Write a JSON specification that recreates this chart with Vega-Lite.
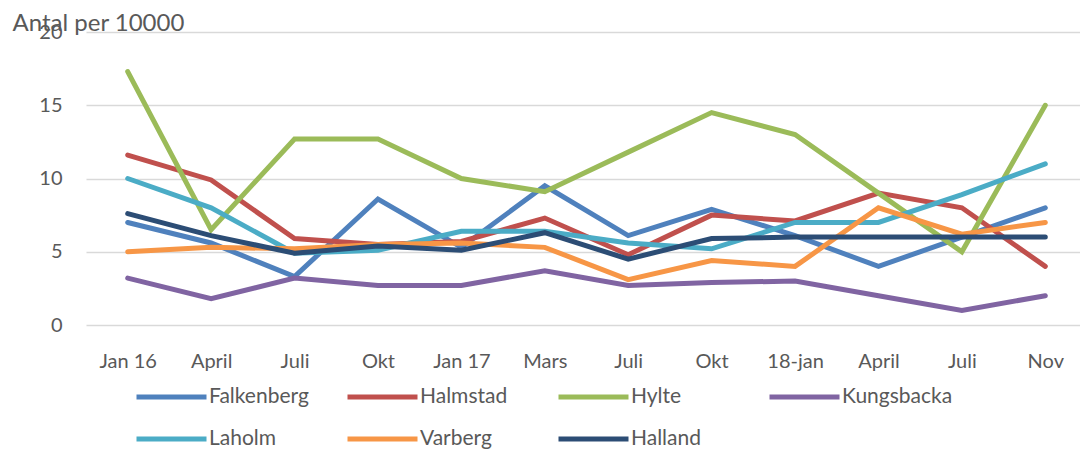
{
  "$schema": "https://vega.github.io/schema/vega-lite/v6.json",
  "autosize": "none",
  "width": 1001,
  "height": 293,
  "padding": {"left": 86, "top": 32, "right": 0, "bottom": 126},
  "background": "white",
  "config": {
    "view": {"stroke": null},
    "font": "Lato",
    "axis": {"labelFont": "Lato", "titleFont": "Lato"},
    "legend": {"labelFont": "Lato"}
  },
  "data": {
    "values": [
      {"serie": "Falkenberg", "t": 0, "v": 7.0}, {"serie": "Falkenberg", "t": 1, "v": 5.6}, {"serie": "Falkenberg", "t": 2, "v": 3.3}, {"serie": "Falkenberg", "t": 3, "v": 8.6}, {"serie": "Falkenberg", "t": 4, "v": 5.3}, {"serie": "Falkenberg", "t": 5, "v": 9.5}, {"serie": "Falkenberg", "t": 6, "v": 6.1}, {"serie": "Falkenberg", "t": 7, "v": 7.9}, {"serie": "Falkenberg", "t": 8, "v": 6.1}, {"serie": "Falkenberg", "t": 9, "v": 4.0}, {"serie": "Falkenberg", "t": 10, "v": 6.0}, {"serie": "Falkenberg", "t": 11, "v": 8.0},
      {"serie": "Halmstad", "t": 0, "v": 11.6}, {"serie": "Halmstad", "t": 1, "v": 9.9}, {"serie": "Halmstad", "t": 2, "v": 5.9}, {"serie": "Halmstad", "t": 3, "v": 5.5}, {"serie": "Halmstad", "t": 4, "v": 5.7}, {"serie": "Halmstad", "t": 5, "v": 7.3}, {"serie": "Halmstad", "t": 6, "v": 4.8}, {"serie": "Halmstad", "t": 7, "v": 7.5}, {"serie": "Halmstad", "t": 8, "v": 7.1}, {"serie": "Halmstad", "t": 9, "v": 9.0}, {"serie": "Halmstad", "t": 10, "v": 8.0}, {"serie": "Halmstad", "t": 11, "v": 4.0},
      {"serie": "Hylte", "t": 0, "v": 17.3}, {"serie": "Hylte", "t": 1, "v": 6.5}, {"serie": "Hylte", "t": 2, "v": 12.7}, {"serie": "Hylte", "t": 3, "v": 12.7}, {"serie": "Hylte", "t": 4, "v": 10.0}, {"serie": "Hylte", "t": 5, "v": 9.1}, {"serie": "Hylte", "t": 6, "v": 11.8}, {"serie": "Hylte", "t": 7, "v": 14.5}, {"serie": "Hylte", "t": 8, "v": 13.0}, {"serie": "Hylte", "t": 9, "v": 9.0}, {"serie": "Hylte", "t": 10, "v": 5.0}, {"serie": "Hylte", "t": 11, "v": 15.0},
      {"serie": "Kungsbacka", "t": 0, "v": 3.2}, {"serie": "Kungsbacka", "t": 1, "v": 1.8}, {"serie": "Kungsbacka", "t": 2, "v": 3.2}, {"serie": "Kungsbacka", "t": 3, "v": 2.7}, {"serie": "Kungsbacka", "t": 4, "v": 2.7}, {"serie": "Kungsbacka", "t": 5, "v": 3.7}, {"serie": "Kungsbacka", "t": 6, "v": 2.7}, {"serie": "Kungsbacka", "t": 7, "v": 2.9}, {"serie": "Kungsbacka", "t": 8, "v": 3.0}, {"serie": "Kungsbacka", "t": 9, "v": 2.0}, {"serie": "Kungsbacka", "t": 10, "v": 1.0}, {"serie": "Kungsbacka", "t": 11, "v": 2.0},
      {"serie": "Laholm", "t": 0, "v": 10.0}, {"serie": "Laholm", "t": 1, "v": 8.0}, {"serie": "Laholm", "t": 2, "v": 4.9}, {"serie": "Laholm", "t": 3, "v": 5.1}, {"serie": "Laholm", "t": 4, "v": 6.4}, {"serie": "Laholm", "t": 5, "v": 6.4}, {"serie": "Laholm", "t": 6, "v": 5.6}, {"serie": "Laholm", "t": 7, "v": 5.2}, {"serie": "Laholm", "t": 8, "v": 7.0}, {"serie": "Laholm", "t": 9, "v": 7.0}, {"serie": "Laholm", "t": 10, "v": 8.9}, {"serie": "Laholm", "t": 11, "v": 11.0},
      {"serie": "Varberg", "t": 0, "v": 5.0}, {"serie": "Varberg", "t": 1, "v": 5.3}, {"serie": "Varberg", "t": 2, "v": 5.2}, {"serie": "Varberg", "t": 3, "v": 5.5}, {"serie": "Varberg", "t": 4, "v": 5.6}, {"serie": "Varberg", "t": 5, "v": 5.3}, {"serie": "Varberg", "t": 6, "v": 3.1}, {"serie": "Varberg", "t": 7, "v": 4.4}, {"serie": "Varberg", "t": 8, "v": 4.0}, {"serie": "Varberg", "t": 9, "v": 8.0}, {"serie": "Varberg", "t": 10, "v": 6.2}, {"serie": "Varberg", "t": 11, "v": 7.0},
      {"serie": "Halland", "t": 0, "v": 7.6}, {"serie": "Halland", "t": 1, "v": 6.1}, {"serie": "Halland", "t": 2, "v": 4.9}, {"serie": "Halland", "t": 3, "v": 5.4}, {"serie": "Halland", "t": 4, "v": 5.1}, {"serie": "Halland", "t": 5, "v": 6.3}, {"serie": "Halland", "t": 6, "v": 4.5}, {"serie": "Halland", "t": 7, "v": 5.9}, {"serie": "Halland", "t": 8, "v": 6.0}, {"serie": "Halland", "t": 9, "v": 6.0}, {"serie": "Halland", "t": 10, "v": 6.0}, {"serie": "Halland", "t": 11, "v": 6.0}
    ]
  },
  "mark": {"type": "line", "strokeWidth": 5, "strokeCap": "round"},
  "encoding": {
    "x": {
      "field": "t",
      "type": "ordinal",
      "scale": {"type": "point", "padding": 0.5},
      "axis": {
        "title": null,
        "labelAngle": 0,
        "labelExpr": "['Jan 16','April','Juli','Okt','Jan 17','Mars','Juli','Okt','18-jan','April','Juli','Nov'][datum.value]",
        "labelFontSize": 20,
        "labelColor": "#595959",
        "labelPadding": 26,
        "domain": false,
        "ticks": false,
        "grid": false
      }
    },
    "y": {
      "field": "v",
      "type": "quantitative",
      "scale": {"domain": [0, 20], "nice": false},
      "axis": {
        "values": [0, 5, 10, 15, 20],
        "title": "Antal per 10000",
        "titleAngle": 0,
        "titleAlign": "left",
        "titleBaseline": "alphabetic",
        "titleX": -74,
        "titleY": -2,
        "titleFontSize": 24,
        "titleFontWeight": "normal",
        "titleColor": "#595959",
        "labelFontSize": 20,
        "labelColor": "#595959",
        "labelPadding": 24,
        "domain": false,
        "ticks": false,
        "gridColor": "#d9d9d9",
        "gridWidth": 1.5
      }
    },
    "color": {
      "field": "serie",
      "type": "nominal",
      "sort": ["Falkenberg", "Halmstad", "Hylte", "Kungsbacka", "Laholm", "Varberg", "Halland"],
      "scale": {
        "domain": ["Falkenberg", "Halmstad", "Hylte", "Kungsbacka", "Laholm", "Varberg", "Halland"],
        "range": ["#4f81bd", "#c0504d", "#9bbb59", "#8064a2", "#4bacc6", "#f79646", "#2c4d75"]
      },
      "legend": {
        "title": null,
        "orient": "none",
        "legendX": 48,
        "legendY": 349,
        "direction": "horizontal",
        "columns": 4,
        "gridAlign": "all",
        "symbolType": "stroke",
        "symbolSize": 4900,
        "symbolStrokeWidth": 5,
        "clipHeight": 32,
        "labelFontSize": 21,
        "labelColor": "#595959",
        "labelOffset": 0,
        "columnPadding": 25,
        "rowPadding": 10
      }
    }
  }
}
